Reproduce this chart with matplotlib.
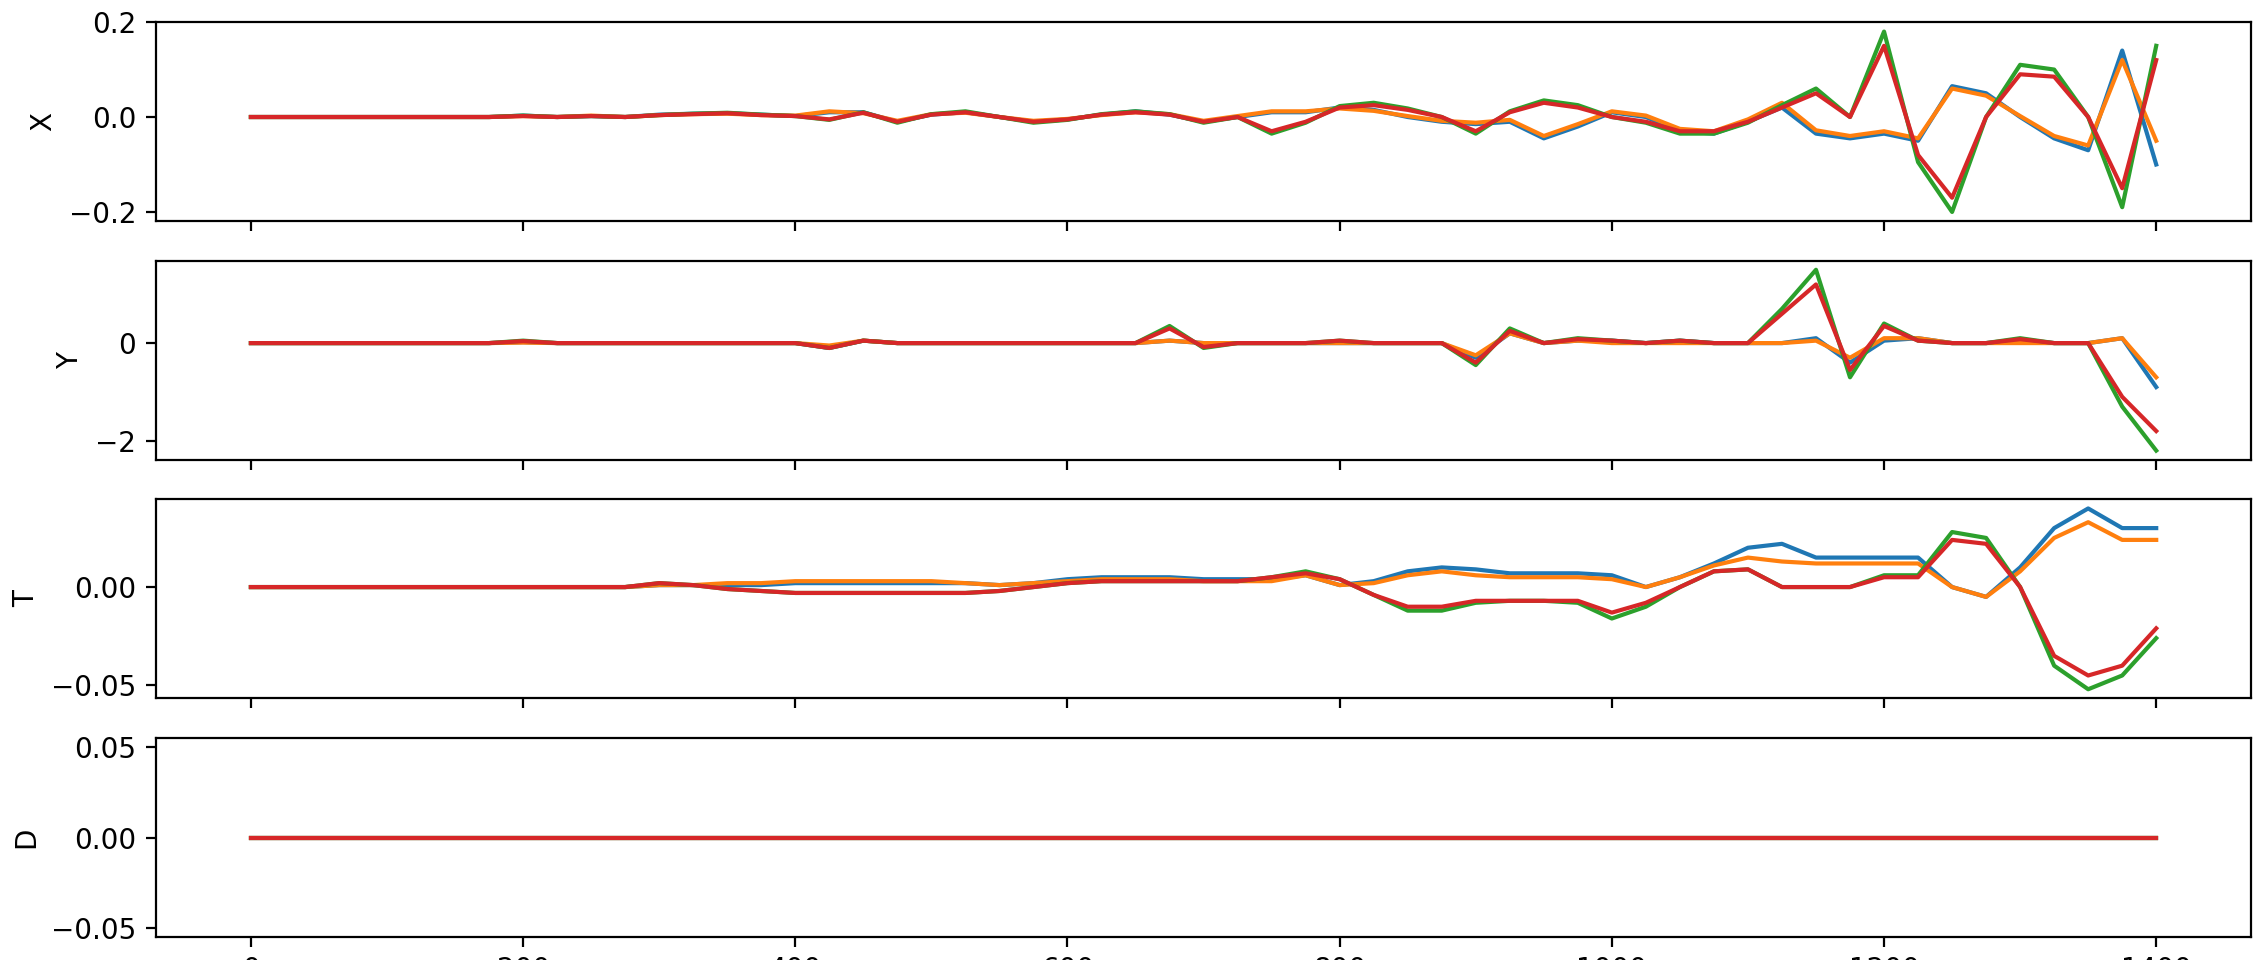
import matplotlib
matplotlib.use("Agg")
import matplotlib.pyplot as plt

steps = list(range(0, 1401, 25))

x_blue   = [0,0,0,0,0,0,0,0,0.003,0,0.002,0,0.005,0.007,0.008,0.005,0.002,0.01,0.01,-0.01,0.005,0.01,0,-0.01,-0.005,0.005,0.012,0.005,-0.01,0.0,0.01,0.01,0.02,0.015,0.0,-0.01,-0.015,-0.01,-0.045,-0.02,0.01,0.0,-0.03,-0.035,-0.01,0.02,-0.035,-0.045,-0.035,-0.05,0.065,0.05,0.0,-0.045,-0.07,0.14,-0.1]
x_orange = [0,0,0,0,0,0,0,0,0.002,0,0.003,0,0.004,0.006,0.007,0.004,0.003,0.012,0.008,-0.008,0.006,0.009,0,-0.008,-0.004,0.004,0.01,0.006,-0.008,0.002,0.012,0.012,0.018,0.013,0.002,-0.008,-0.012,-0.006,-0.04,-0.015,0.012,0.003,-0.025,-0.03,-0.005,0.03,-0.028,-0.04,-0.03,-0.045,0.06,0.045,0.002,-0.04,-0.06,0.12,-0.05]
x_green  = [0,0,0,0,0,0,0,0,0.003,0,0.002,0,0.004,0.007,0.009,0.005,0.002,-0.006,0.01,-0.012,0.006,0.012,0,-0.012,-0.006,0.006,0.012,0.006,-0.012,0.0,-0.035,-0.012,0.023,0.03,0.018,0.0,-0.035,0.012,0.035,0.025,0.0,-0.012,-0.035,-0.035,-0.012,0.025,0.06,0.0,0.18,-0.095,-0.2,0.0,0.11,0.1,0.0,-0.19,0.15]
x_red    = [0,0,0,0,0,0,0,0,0.002,0,0.002,0,0.004,0.006,0.008,0.004,0.002,-0.005,0.009,-0.01,0.005,0.01,0,-0.01,-0.005,0.005,0.01,0.005,-0.01,0.0,-0.03,-0.01,0.02,0.025,0.015,0.0,-0.03,0.01,0.03,0.02,0.0,-0.01,-0.03,-0.03,-0.01,0.02,0.05,0.0,0.15,-0.08,-0.17,0.0,0.09,0.085,0.0,-0.15,0.12]

y_blue   = [0,0,0,0,0,0,0,0,0.02,0,0,0,0,0,0,0,0,-0.1,0.05,0,0,0,0,0,0,0,0,0.05,0.0,0,0,0,0.0,0,0,0,-0.3,0.2,0,0.05,0.05,0.0,0.05,0,0,0.0,0.1,-0.4,0.05,0.1,0,0,0.05,0,0,0.1,-0.9]
y_orange = [0,0,0,0,0,0,0,0,0.01,0,0,0,0,0,0,0,0,-0.05,0.05,0,0,0,0,0,0,0,0,0.05,0.0,0,0,0,0.0,0,0,0,-0.25,0.2,0,0.05,0.0,0.0,0.0,0,0,0.0,0.05,-0.3,0.1,0.1,0,0,0.0,0,0,0.1,-0.7]
y_green  = [0,0,0,0,0,0,0,0,0.05,0,0,0,0,0,0,0,0,-0.1,0.05,0,0,0,0,0,0,0,0,0.35,-0.1,0,0,0,0.05,0,0,0,-0.45,0.3,0,0.1,0.05,0.0,0.05,0,0,0.7,1.5,-0.7,0.4,0.05,0,0,0.1,0,0,-1.3,-2.2]
y_red    = [0,0,0,0,0,0,0,0,0.04,0,0,0,0,0,0,0,0,-0.1,0.05,0,0,0,0,0,0,0,0,0.3,-0.08,0,0,0,0.05,0,0,0,-0.4,0.25,0,0.08,0.05,0.0,0.05,0,0,0.6,1.2,-0.55,0.35,0.05,0,0,0.08,0,0,-1.1,-1.8]

t_blue   = [0,0,0,0,0,0,0,0,0,0,0,0,0.001,0.001,0.001,0.001,0.002,0.002,0.002,0.002,0.002,0.002,0.001,0.002,0.004,0.005,0.005,0.005,0.004,0.004,0.004,0.006,0.001,0.003,0.008,0.01,0.009,0.007,0.007,0.007,0.006,0.0,0.005,0.012,0.02,0.022,0.015,0.015,0.015,0.015,0.0,-0.005,0.01,0.03,0.04,0.03,0.03]
t_orange = [0,0,0,0,0,0,0,0,0,0,0,0,0.001,0.001,0.002,0.002,0.003,0.003,0.003,0.003,0.003,0.002,0.001,0.002,0.003,0.004,0.004,0.004,0.003,0.003,0.003,0.006,0.001,0.002,0.006,0.008,0.006,0.005,0.005,0.005,0.004,0.0,0.005,0.011,0.015,0.013,0.012,0.012,0.012,0.012,0.0,-0.005,0.008,0.025,0.033,0.024,0.024]
t_green  = [0,0,0,0,0,0,0,0,0,0,0,0,0.002,0.001,-0.001,-0.002,-0.003,-0.003,-0.003,-0.003,-0.003,-0.003,-0.002,0.0,0.002,0.003,0.003,0.003,0.003,0.003,0.005,0.008,0.004,-0.004,-0.012,-0.012,-0.008,-0.007,-0.007,-0.008,-0.016,-0.01,0.0,0.008,0.009,0.0,0.0,0.0,0.006,0.006,0.028,0.025,0.0,-0.04,-0.052,-0.045,-0.026]
t_red    = [0,0,0,0,0,0,0,0,0,0,0,0,0.002,0.001,-0.001,-0.002,-0.003,-0.003,-0.003,-0.003,-0.003,-0.003,-0.002,0.0,0.002,0.003,0.003,0.003,0.003,0.003,0.005,0.007,0.004,-0.004,-0.01,-0.01,-0.007,-0.007,-0.007,-0.007,-0.013,-0.008,0.0,0.008,0.009,0.0,0.0,0.0,0.005,0.005,0.024,0.022,0.0,-0.035,-0.045,-0.04,-0.021]

d_vals = [0.0] * len(steps)

panels = [("X", [x_blue, x_orange, x_green, x_red]),
          ("Y", [y_blue, y_orange, y_green, y_red]),
          ("T", [t_blue, t_orange, t_green, t_red]),
          ("D", [d_vals, d_vals, d_vals, d_vals])]
colors = ["C0", "C1", "C2", "C3"]

fig, axes = plt.subplots(4, 1, figsize=(11.28, 4.8), dpi=200, sharex=True)
for ax, (name, series) in zip(axes, panels):
    for s, c in zip(series, colors):
        ax.plot(steps, s, color=c, lw=1.5)
    ax.set_ylabel(name)
axes[0].set_yticks([-0.2, 0.0, 0.2])
axes[1].set_yticks([-2, 0])
axes[3].set_xticks(range(0, 1401, 200))
fig.subplots_adjust(left=0.069, right=0.998, top=0.977, bottom=0.024, hspace=0.2)
fig.savefig("out.png")
